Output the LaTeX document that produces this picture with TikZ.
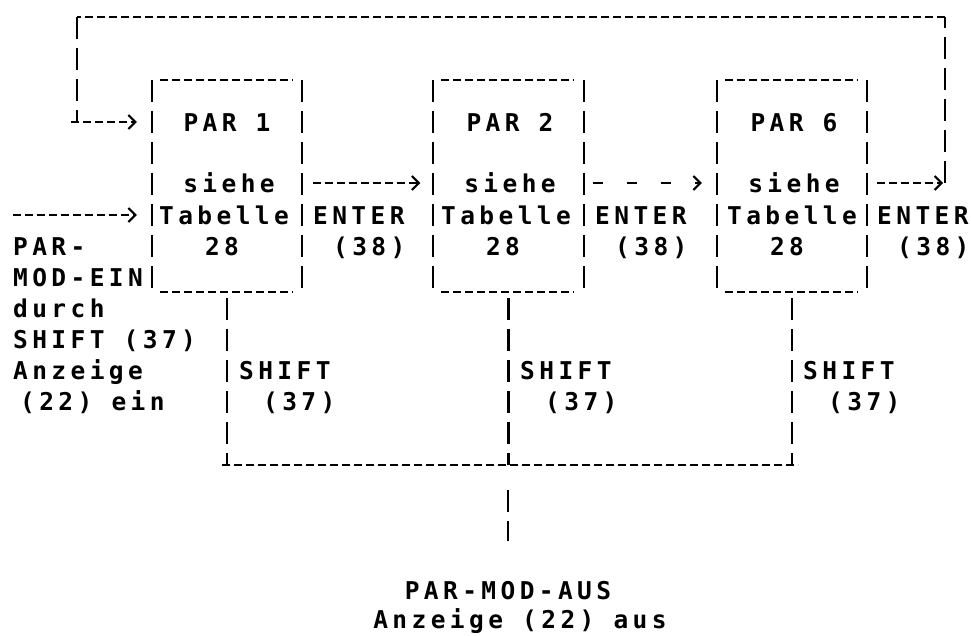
\documentclass[tikz,border=0pt]{standalone}
\usepackage{fontspec}
\usetikzlibrary{arrows.meta,calc}
\newfontfamily\dm{DejaVu Sans Mono}[LetterSpace=18]
\begin{document}
\begin{tikzpicture}[x=1pt,y=-1pt,
  txt/.style={font=\dm\bfseries\fontsize{24.5}{24.5}\selectfont, inner sep=0pt, text height=18pt, text depth=0pt},
  lt/.style={txt, anchor=west},
  boxn/.style={minimum width=150pt, minimum height=212pt, inner sep=0pt},
  hl/.style={line width=2.1pt, dash pattern=on 8pt off 4pt},
  vl/.style={line width=2.1pt, dash pattern=on 22pt off 9pt},
  sparse/.style={line width=2.1pt, dash pattern=on 10pt off 24pt},
  >={Straight Barb[length=7pt,width=14pt]}]
\useasboundingbox (0,0) rectangle (971,635);

% boxes
\node[boxn] (p1) at (227,186) {};
\node[boxn] (p2) at (508.5,186) {};
\node[boxn] (p6) at (792,186) {};
\foreach \b in {p1,p2,p6}{
  \draw[hl, shorten <=8pt, shorten >=10pt] (\b.north west) -- (\b.north east);
  \draw[hl, shorten <=8pt, shorten >=10pt] (\b.south west) -- (\b.south east);
  \draw[vl] (\b.north west) -- (\b.south west);
  \draw[vl] (\b.north east) -- (\b.south east);
}

% box texts
\node[txt] (n1) at (227,122) {PAR 1};
\node[txt] (s1) at (229,183) {siehe};
\node[txt] (t1) at (224,215) {Tabelle};
\node[txt] (z1) at (222,246) {28};
\node[txt] (n2) at (510,122) {PAR 2};
\node[txt] (s2) at (510,183) {siehe};
\node[txt] (t2) at (506,215) {Tabelle};
\node[txt] (z2) at (503,246) {28};
\node[txt] (n6) at (794,122) {PAR 6};
\node[txt] (s6) at (794,183) {siehe};
\node[txt] (t6) at (792,215) {Tabelle};
\node[txt] (z6) at (787,246) {28};

% ENTER labels
\node[lt] (e1) at (313,215) {ENTER};
\node[lt] (e1b) at (333,246) {(38)};
\node[lt] (e2) at (595,215) {ENTER};
\node[lt] (e2b) at (615,246) {(38)};
\node[lt] (e6) at (877,215) {ENTER};
\node[lt] (e6b) at (897,246) {(38)};

% arrows between boxes
\draw[hl,->, shorten <=11pt, shorten >=13pt] (p1.east |- s1) -- (p2.west |- s1);
\draw[sparse,->, shorten <=9pt, shorten >=15pt] (p2.east |- s2) -- (p6.west |- s6);

% return loop
\coordinate (rc) at (945,183);
\coordinate (rt) at (945,17);
\coordinate (ltop) at (77,17);
\coordinate (lc) at (77,122);
\draw[hl,->, shorten <=10pt, shorten >=2pt] (p6.east |- s6) -- (rc);
\draw[vl] (rc) -- (rt);
\draw[hl] (rt) -- (ltop);
\draw[vl] (ltop) -- (lc);
\draw[hl,->, shorten <=-6pt, shorten >=15pt] (lc) -- (p1.west |- n1);

% entry
\coordinate (in) at (13,215);
\draw[hl,->, shorten >=15pt] (in) -- (p1.west |- t1);
\node[lt] (l1) at (13,246) {PAR-};
\node[lt] (l2) at (13,277) {MOD-EIN};
\node[lt] (l3) at (13,308) {durch};
\node[lt] (l4) at (13,339) {SHIFT (37)};
\node[lt] (l5) at (13,370) {Anzeige};
\node[lt] (l6) at (20,401) {(22) ein};

% SHIFT branches
\coordinate (busL) at (222,465);
\coordinate (busR) at (798,465);
\coordinate (bus) at (508,465);
\draw[vl, shorten <=6pt] (p1.south) -- (p1.south |- bus);
\draw[vl, shorten <=6pt] (p2.south) -- (p2.south |- bus);
\draw[vl, shorten <=6pt] (p6.south) -- (p6.south |- bus);
\node[lt] (sh1) at (239,370) {SHIFT};
\node[lt] (sh1b) at (263,401) {(37)};
\node[lt] (sh2) at (520,370) {SHIFT};
\node[lt] (sh2b) at (545,401) {(37)};
\node[lt] (sh6) at (803,370) {SHIFT};
\node[lt] (sh6b) at (828,401) {(37)};
\draw[hl] (busL) -- (busR);

% exit
\node[txt] (aus1) at (508,590) {PAR-MOD-AUS};
\node[txt] (aus2) at (520,619) {Anzeige (22) aus};
\draw[vl, shorten <=25pt, shorten >=40pt] (bus) -- (aus1.north);
\end{tikzpicture}
\end{document}
